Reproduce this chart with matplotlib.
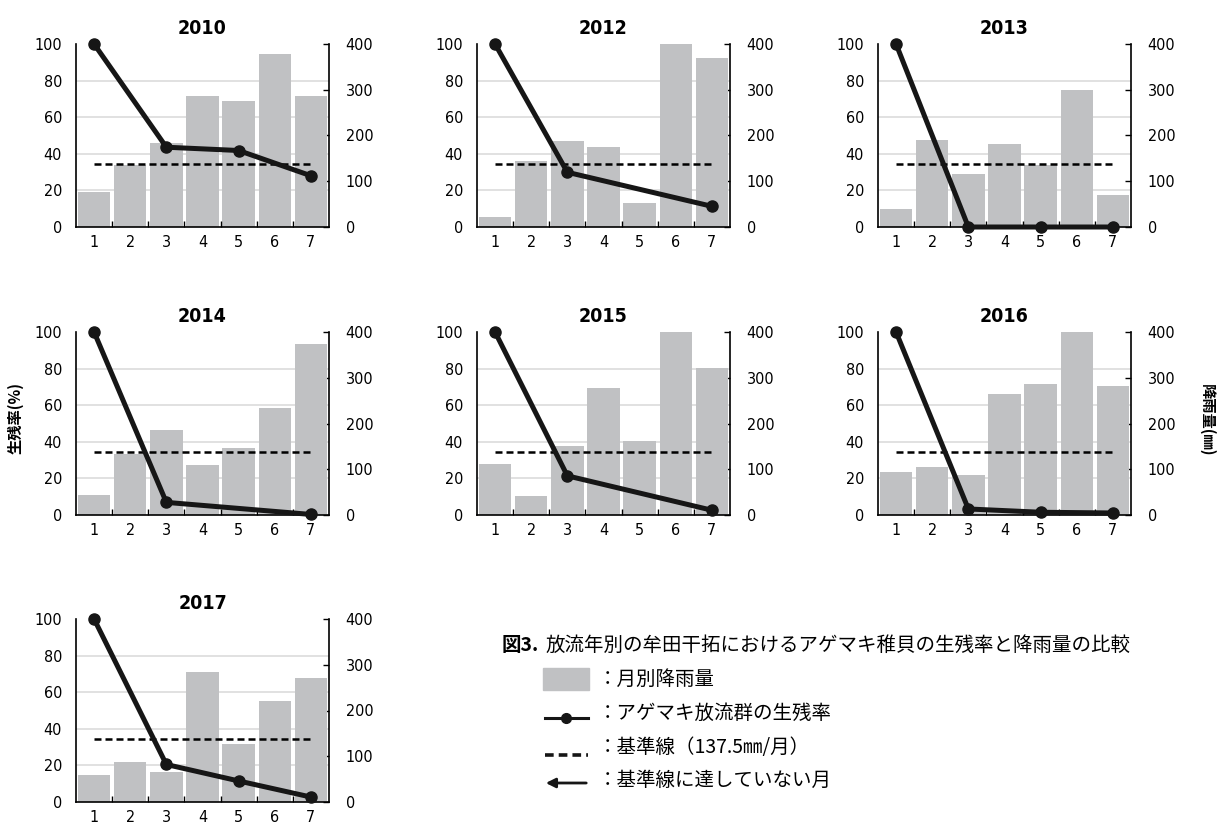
import numpy as np
import matplotlib
matplotlib.use("Agg")
from matplotlib import pyplot as plt
from matplotlib.patches import Rectangle

plt.rcParams['font.family'] = ['DejaVu Sans']
plt.rcParams['font.stretch'] = 'condensed'
JP = ['Noto Sans CJK JP', 'DejaVu Sans']

# months after release (x axis) and the 137.5 mm/month reference line
months = [1, 2, 3, 4, 5, 6, 7]
base_rain = 137.5

years = ['2010', '2012', '2013', '2014', '2015', '2016', '2017']

# monthly rainfall (mm)
rain_2010 = [77, 135, 183, 287, 276, 378, 287]
rain_2012 = [22, 145, 188, 174, 52, 400, 369]
rain_2013 = [39, 190, 116, 181, 135, 300, 69]
rain_2014 = [44, 133, 186, 110, 146, 233, 374]
rain_2015 = [111, 41, 151, 278, 161, 400, 322]
rain_2016 = [94, 105, 88, 265, 287, 400, 282]
rain_2017 = [59, 87, 65, 284, 127, 220, 271]

# survival rate (%) at the survey months
surv_month_2010 = [1, 3, 5, 7]
surv_2010 = [100, 43.6, 41.8, 28]
surv_month_2012 = [1, 3, 7]
surv_2012 = [100, 29.9, 11.3]
surv_month_2013 = [1, 3, 5, 7]
surv_2013 = [100, 0, 0, 0]
surv_month_2014 = [1, 3, 7]
surv_2014 = [100, 6.9, 0.3]
surv_month_2015 = [1, 3, 7]
surv_2015 = [100, 21.4, 2.6]
surv_month_2016 = [1, 3, 5, 7]
surv_2016 = [100, 3.3, 1.5, 1.1]
surv_month_2017 = [1, 3, 5, 7]
surv_2017 = [100, 20.5, 11.5, 2.7]

rains = [rain_2010, rain_2012, rain_2013, rain_2014, rain_2015, rain_2016, rain_2017]
surv_months = [surv_month_2010, surv_month_2012, surv_month_2013, surv_month_2014,
               surv_month_2015, surv_month_2016, surv_month_2017]
survs = [surv_2010, surv_2012, surv_2013, surv_2014, surv_2015, surv_2016, surv_2017]

W, H = 1225, 830
fig = plt.figure(figsize=(W / 100, H / 100), dpi=100)

col_left = [76, 477, 878]
row_bottom = [227, 515, 802]
aw, ah = 253, 183

bar_color = '#c0c1c3'
grid_color = '#dcdcdc'

for i, yr in enumerate(years):
    r, c = divmod(i, 3)
    ax = fig.add_axes([col_left[c] / W, 1 - row_bottom[r] / H, aw / W, ah / H])
    ax2 = ax.twinx()
    # survival axis drawn on top of the rainfall axis
    ax.set_zorder(ax2.get_zorder() + 1)
    ax.patch.set_visible(False)

    ax2.bar(months, rains[i], width=0.9, color=bar_color, zorder=2)
    ax2.plot([months[0], months[-1]], [base_rain, base_rain], color='black',
             lw=1.8, dashes=(2.8, 1.6), zorder=3)
    ax2.set_ylim(0, 400)
    ax2.set_yticks([0, 100, 200, 300, 400])
    ax2.set_yticks(np.arange(80, 401, 80), minor=True)
    ax2.grid(which='minor', axis='y', color=grid_color, lw=1.2, zorder=0)
    ax2.set_axisbelow(True)
    ax2.tick_params(axis='y', which='major', direction='in', length=4, width=1,
                    pad=12, labelsize=11.5)
    ax2.tick_params(axis='y', which='minor', length=0)

    ax.plot(surv_months[i], survs[i], color='#161616', lw=3.6, marker='o',
            markersize=8, clip_on=False, zorder=5)
    ax.set_ylim(0, 100)
    ax.set_xlim(0.5, 7.5)
    ax.set_yticks([0, 20, 40, 60, 80, 100])
    ax.set_xticks(months)
    ax.set_xticks(np.arange(1.5, 7, 1), minor=True)
    ax.tick_params(axis='y', length=0, pad=10, labelsize=11.5)
    ax.tick_params(axis='x', which='major', length=0, pad=6, labelsize=11.5)
    ax.tick_params(axis='x', which='minor', direction='in', length=4, width=1)

    for a in (ax, ax2):
        a.spines['top'].set_visible(False)
    ax.spines['right'].set_visible(False)
    ax2.spines['left'].set_visible(False)
    ax2.spines['bottom'].set_visible(False)
    for s in ('left', 'bottom'):
        ax.spines[s].set_linewidth(1.2)
    ax2.spines['right'].set_linewidth(1.2)

    ax.set_title(yr, fontsize=14, fontweight='bold', pad=7)

fig.text(15 / W, 1 - 418 / H, '生残率(%)', rotation=90, ha='center', va='center',
         fontsize=11, fontweight='bold', family=JP)
fig.text(1207 / W, 1 - 420 / H, '降雨量(㎜)', rotation=270, ha='center', va='center',
         fontsize=11, fontweight='bold', family=JP)

# caption and key drawn on an overlay in pixel units
ov = fig.add_axes([0, 0, 1, 1])
ov.set_xlim(0, W)
ov.set_ylim(H, 0)
ov.axis('off')

ov.text(502, 645, '図3.', ha='left', va='center', fontsize=14, fontweight='bold', family=JP)
ov.text(545, 645, '放流年別の牟田干拓におけるアゲマキ稚貝の生残率と降雨量の比較',
        ha='left', va='center', fontsize=14, family=JP)

ov.add_patch(Rectangle((543, 668), 46, 22, color=bar_color))
ov.plot([545, 588], [718, 718], color='#161616', lw=2.2)
ov.plot([566], [718], 'o', color='#161616', markersize=7)
ov.plot([545, 588], [755, 755], color='#161616', lw=2.6, dashes=(2.4, 1.4))
ov.annotate('', xy=(543, 783), xytext=(589, 783),
            arrowprops=dict(arrowstyle='-|>', color='#161616', lw=2,
                            mutation_scale=14))

key_texts = ['：月別降雨量', '：アゲマキ放流群の生残率', '：基準線（137.5㎜/月）', '：基準線に達していない月']
key_y = [679, 713, 747, 780]
for t, y in zip(key_texts, key_y):
    ov.text(598, y, t, ha='left', va='center', fontsize=14, family=JP)

fig.savefig('out.png', dpi=100)
